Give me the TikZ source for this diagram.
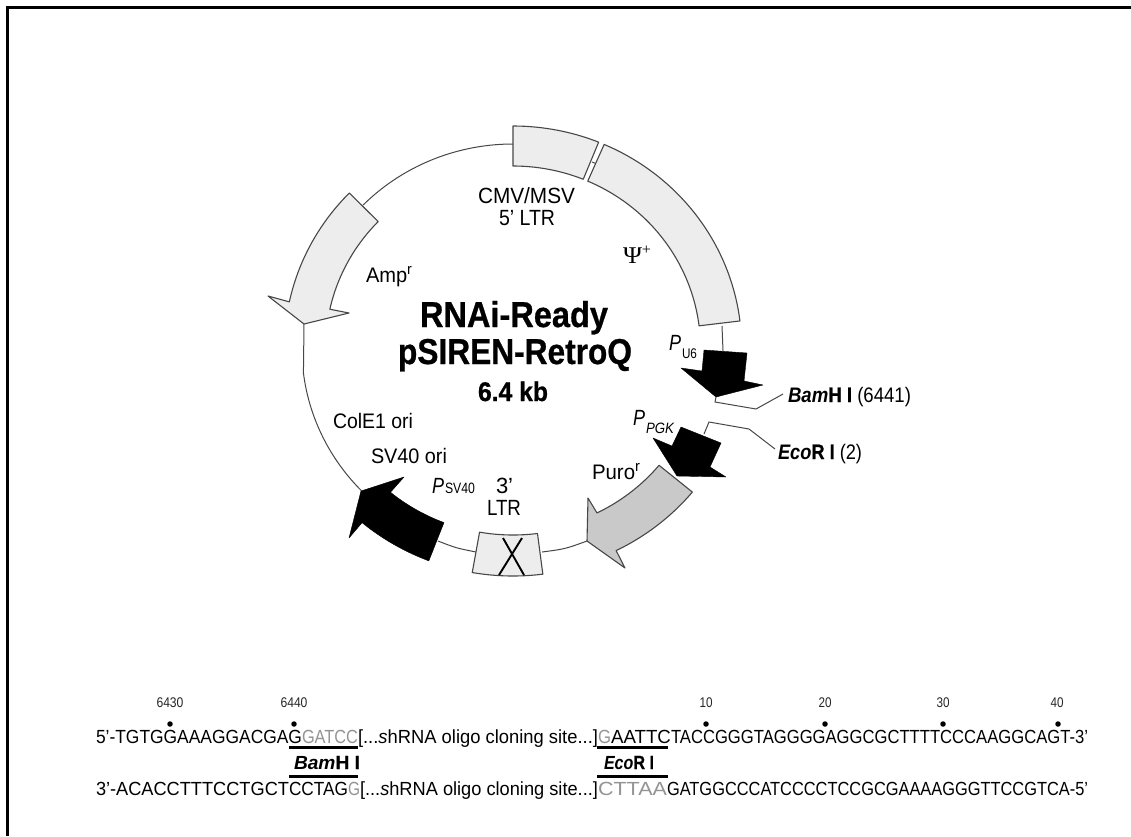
\documentclass[tikz,border=0pt]{standalone}
\usepackage{fontspec}
\setmainfont{Liberation Sans}[BoldFeatures={FakeBold=0.8}]
\newfontfamily\psifont{Liberation Serif}
\newcommand\fitw[2]{\resizebox{#1pt}{\height}{#2}}
\newcommand\fs[1]{\fontsize{#1}{#1}\selectfont}
\newcommand\sm[2]{\raisebox{#1pt}{\fs{#2}r}}
\newcommand\ex[1]{513+1.03*#1*cos(\x)}
\newcommand\ey[1]{348+#1*sin(\x)}
\tikzset{
  lbl/.style={anchor=base west,inner sep=0pt,outer sep=0pt,text=black},
  featbox/.style={draw=black!72,line width=1.1pt,fill=black!7,line join=round},
  puro/.style={draw=black!72,line width=1.1pt,fill=black!21,line join=round},
  blk/.style={fill=black,draw=black,line width=.4pt,line join=round},
  wire/.style={draw=black!72,line width=1pt},
  bar/.style={draw=black,line width=2.2pt},
  numlbl/.style={anchor=center,inner sep=0pt,text=black!85},
  seqdot/.style={circle,fill=black,inner sep=0pt,minimum size=5.5pt},
  arcs/.style={samples=30,smooth}
}
\begin{document}
\begin{tikzpicture}[x=1pt,y=-1pt]
\useasboundingbox (0,0) rectangle (1131,836);
\fill[white] (0,0) rectangle (1131,836);
% frame
\coordinate (fa) at (7.5,836); \coordinate (fb) at (7.5,7.5); \coordinate (fc) at (1131,7.5);
\draw[black,line width=3pt] (fa) -- (fb) -- (fc);
% backbone
\coordinate (amptail) at (364,205); \coordinate (amptip) at (304,324);
\coordinate (svtip) at (361,491);
\draw[wire] (amptail) -- plot[domain=-135.3:-90,arcs] ({\ex{204}},{\ey{204}});
\draw[wire] (amptip) -- plot[domain=173:136,arcs] ({\ex{205}},{\ey{205}}) -- (svtip);
\coordinate (svtail) at (438,541); \coordinate (ltrl) at (476,552);
\draw[wire] (svtail) .. controls (456,548) .. (ltrl);
\coordinate (ltrr) at (542,552); \coordinate (purotip) at (587,541);
\draw[wire] (ltrr) .. controls (565,549) .. (purotip);
\coordinate (psiend) at (722,326); \coordinate (u6top) at (723,351);
\draw[wire] (psiend) -- (u6top);
\coordinate (lnka) at (592,162); \coordinate (lnkb) at (597,164);
\draw[wire] (lnka) -- (lnkb);
% feature boxes
\draw[featbox] plot[domain=-90:-68,arcs] ({\ex{222}},{\ey{222}}) -- plot[domain=-68:-90,arcs] ({\ex{182}},{\ey{182}}) -- cycle;
\draw[featbox] plot[domain=-66.5:-7,arcs] ({\ex{222}},{\ey{222}}) -- plot[domain=-7:-66.5,arcs] ({\ex{182}},{\ey{182}}) -- cycle;
\draw[featbox] plot[domain=82.7:100,arcs] ({\ex{228}},{\ey{228}}) -- plot[domain=100:82.7,arcs] ({\ex{187}},{\ey{187}}) -- cycle;
\coordinate (xa) at (503,538); \coordinate (xb) at (524,575);
\coordinate (xc) at (522,538); \coordinate (xd) at (499,575);
\draw[black,line width=1.9pt] (xa) -- (xb) (xc) -- (xd);
% Amp arrow
\draw[featbox] plot[domain=-135.7:-168,arcs] ({\ex{222}},{\ey{222}}) -- (268,296) -- (304,324)
  -- (349,313) -- plot[domain=-167.7:-136,arcs] ({\ex{182}},{\ey{182}}) -- cycle;
% Puro arrow
\draw[puro] plot[domain=39.6:63.7,arcs] ({\ex{184}},{\ey{184}}) -- (588,498) -- (587,541)
  -- (625,568) -- plot[domain=63.7:39.6,arcs] ({\ex{226}},{\ey{226}}) -- cycle;
% black arrows
\draw[blk] (704,350) -- (747,353) -- (744,381) -- (763,385) -- (716,397) -- (681,368) -- (702,371) -- cycle;
\draw[blk] (681,427) -- (721,443) -- (710,467) -- (726,477) -- (677,476) -- (653,438) -- (672,446) -- cycle;
\draw[blk] (361,491) -- (404,477) -- plot[domain=129.5:111,arcs] ({\ex{187}},{\ey{187}})
  -- plot[domain=111:130,arcs] ({\ex{228}},{\ey{228}}) -- (349,538) -- cycle;
% labels
\node[lbl] (cmv) at (478,203) {\fs{22}\fitw{97}{CMV/MSV}};
\node[lbl] (ltr5) at (499,225) {\fs{22}\fitw{56}{5' LTR}};
\node[lbl] (amp) at (366,282) {\fs{21}\fitw{46}{Amp\sm{8}{15}}};
\node[lbl] (psi) at (623,263) {\fs{24}\fitw{28}{\psifont Ψ\raisebox{9pt}{\fs{15}+}}};
\node[lbl] (t1) at (420,327) {\fs{36}\fitw{188}{\bfseries RNAi-Ready}};
\node[lbl] (t2) at (398,364) {\fs{36}\fitw{234}{\bfseries pSIREN-RetroQ}};
\node[lbl] (t3) at (478,401) {\fs{27}\fitw{70}{\bfseries 6.4 kb}};
\node[lbl] (pu6) at (669,350) {\fs{22}\fitw{12}{\itshape P}};
\node[lbl] (u6) at (682,358) {\fs{14}\fitw{15}{U6}};
\node[lbl] (ppgk) at (633,425) {\fs{22}\fitw{12}{\itshape P}};
\node[lbl] (pgk) at (646,433) {\fs{15}\fitw{28}{\itshape PGK}};
\node[lbl] (bam) at (788,402) {\fs{21}\fitw{123}{\textbf{\textit{Bam}H I} (6441)}};
\node[lbl] (eco) at (778,459) {\fs{21}\fitw{84}{\textbf{\textit{Eco}R I} (2)}};
\node[lbl] (pur) at (592,479) {\fs{21}\fitw{48}{Puro\sm{8}{15}}};
\node[lbl] (col) at (333,428) {\fs{21}\fitw{80}{ColE1 ori}};
\node[lbl] (svo) at (371,463) {\fs{21}\fitw{76}{SV40 ori}};
\node[lbl] (psv) at (432,493) {\fs{22}\fitw{12}{\itshape P}};
\node[lbl] (sv) at (445,493) {\fs{15}\fitw{30}{SV40}};
\node[lbl] (l3a) at (496,493) {\fs{22}3'};
\node[lbl] (l3b) at (487,515) {\fs{22}\fitw{34}{LTR}};
% leaders
\coordinate (bl1) at (716,397); \coordinate (bl2) at (715,402); \coordinate (bl3) at (756,409); \coordinate (bl4) at (783,394);
\draw[wire] (bl1) -- (bl2) -- (bl3) -- (bl4);
\coordinate (el1) at (704,434); \coordinate (el2) at (709,422); \coordinate (el3) at (749,429); \coordinate (el4) at (775,449);
\draw[wire] (el1) -- (el2) -- (el3) -- (el4);
% sequence
\definecolor{seqg}{gray}{0.58}
\node[lbl] (s1a) at (96,743) {\fs{19}\fitw{206}{5'-TGTGGAAAGGACGAG}};
\node[lbl,text=seqg] (s1b) at (302,743) {\fs{19}\fitw{56}{GATCC}};
\node[lbl] (s1c) at (358,743) {\fs{19}\fitw{240}{[...\textit{s}hRNA oligo cloning site...]}};
\node[lbl,text=seqg] (s1d) at (598,743) {\fs{19}\fitw{13}{G}};
\node[lbl] (s1e) at (611,743) {\fs{19}\fitw{60}{AATTC}};
\node[lbl] (s1f) at (671,743) {\fs{19}\fitw{417}{TACCGGGTAGGGGAGGCGCTTTTCCCAAGGCAGT-3'}};
\node[lbl] (s2a) at (96,795) {\fs{19}\fitw{193}{3'-ACACCTTTCCTGCT}};
\node[lbl] (s2b) at (289,795) {\fs{19}\fitw{59}{CCTAG}};
\node[lbl,text=seqg] (s2c) at (348,795) {\fs{19}\fitw{12}{G}};
\node[lbl] (s2d) at (360,795) {\fs{19}\fitw{238}{[...\textit{s}hRNA oligo cloning site...]}};
\node[lbl,text=seqg] (s2e) at (598,795) {\fs{19}\fitw{69}{CTTAA}};
\node[lbl] (s2f) at (667,795) {\fs{19}\fitw{421}{GATGGCCCATCCCCTCCGCGAAAAGGGTTCCGTCA-5'}};
\node[lbl] (bs) at (294,769) {\fs{19}\fitw{66}{\textbf{\textit{Bam}H I}}};
\node[lbl] (es) at (604,769) {\fs{19}\fitw{50}{\textbf{\textit{Eco}R I}}};
\coordinate (ba) at (289,747.5); \coordinate (bb) at (358,747.5);
\coordinate (bc) at (289,776.5); \coordinate (bd) at (358,776.5);
\coordinate (ea) at (597,747.5); \coordinate (eb) at (668,747.5);
\coordinate (ec) at (597,776.5); \coordinate (ed) at (668,776.5);
\draw[bar] (ba) -- (bb) (bc) -- (bd) (ea) -- (eb) (ec) -- (ed);
% ruler
\node[numlbl] (n1) at (170,703) {\fs{14}\fitw{27}{6430}};
\node[numlbl] (n2) at (294,703) {\fs{14}\fitw{27}{6440}};
\node[numlbl] (n3) at (706,703) {\fs{14}\fitw{13}{10}};
\node[numlbl] (n4) at (825,703) {\fs{14}\fitw{13}{20}};
\node[numlbl] (n5) at (943,703) {\fs{14}\fitw{13}{30}};
\node[numlbl] (n6) at (1057,703) {\fs{14}\fitw{13}{40}};
\node[seqdot] (d1) at (170,724) {};
\node[seqdot] (d2) at (294,724) {};
\node[seqdot] (d3) at (706,724) {};
\node[seqdot] (d4) at (825,724) {};
\node[seqdot] (d5) at (943,724) {};
\node[seqdot] (d6) at (1058,724) {};
\end{tikzpicture}
\end{document}
